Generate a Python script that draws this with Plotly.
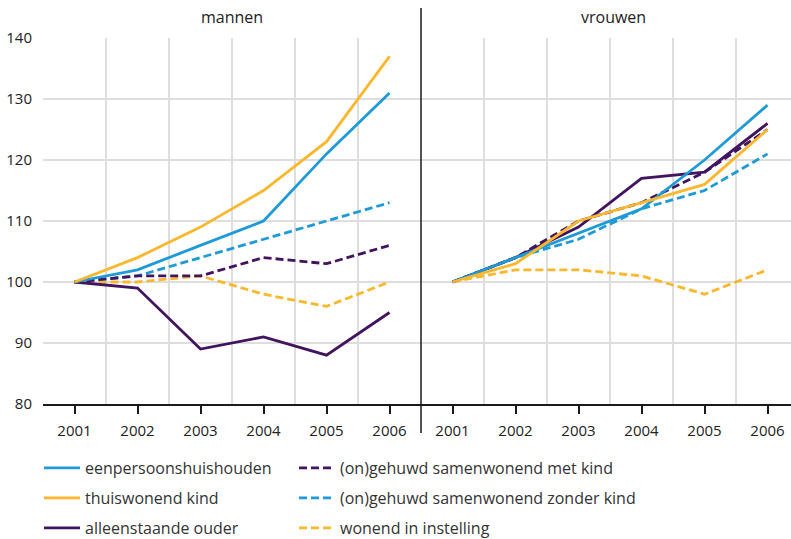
import plotly.graph_objects as go

years = [2001, 2002, 2003, 2004, 2005, 2006]
tick_years = ["2001", "2002", "2003", "2004", "2005", "2006"]
y_ticks = [80, 90, 100, 110, 120, 130, 140]
panel_titles = ["mannen", "vrouwen"]

names = [
    "eenpersoonshuishouden",
    "thuiswonend kind",
    "alleenstaande ouder",
    "(on)gehuwd samenwonend met kind",
    "(on)gehuwd samenwonend zonder kind",
    "wonend in instelling",
]

# mannen
m_eenpersoons = [100, 102, 106, 110, 121, 131]
m_thuiswonend = [100, 104, 109, 115, 123, 137]
m_alleenstaand = [100, 99, 89, 91, 88, 95]
m_met_kind = [100, 101, 101, 104, 103, 106]
m_zonder_kind = [100, 101, 104, 107, 110, 113]
m_instelling = [100, 100, 101, 98, 96, 100]

# vrouwen
v_eenpersoons = [100, 104, 108, 112, 120, 129]
v_thuiswonend = [100, 103, 110, 113, 116, 125]
v_alleenstaand = [100, 104, 109, 117, 118, 126]
v_met_kind = [100, 104, 110, 113, 118, 125]
v_zonder_kind = [100, 104, 107, 112, 115, 121]
v_instelling = [100, 102, 102, 101, 98, 102]

BLUE = "#1e9ad6"
YELLOW = "#fbb72e"
PURPLE = "#42145f"
DASH = "8px,4px"
LW = 2.8

W, H = 791, 539
FONT = "Open Sans"


def px(x):
    return x / W


def py(y):
    return (H - y) / H


fig = go.Figure()

# (color, dash, legend id, legend x (px), legend row y (px))
styles = [
    (BLUE, "solid", "legend", 39, 468),
    (YELLOW, "solid", "legend2", 39, 498),
    (PURPLE, "solid", "legend3", 39, 528),
    (PURPLE, DASH, "legend4", 294, 468),
    (BLUE, DASH, "legend5", 294, 498),
    (YELLOW, DASH, "legend6", 294, 528),
]
mdata = [m_eenpersoons, m_thuiswonend, m_alleenstaand, m_met_kind, m_zonder_kind, m_instelling]
vdata = [v_eenpersoons, v_thuiswonend, v_alleenstaand, v_met_kind, v_zonder_kind, v_instelling]

draw_order = [5, 4, 3, 2, 0, 1]
for panel, data, xa in [(0, mdata, "x"), (1, vdata, "x2")]:
    for i in draw_order:
        col, dash, leg, lx, ly = styles[i]
        fig.add_trace(go.Scatter(
            x=years, y=data[i], mode="lines", name=names[i],
            line=dict(color=col, width=LW, dash=dash),
            xaxis=xa, yaxis="y" if xa == "x" else "y2",
            showlegend=(panel == 0), legend=leg,
            hoverinfo="skip",
        ))

grid = "#dedede"
xcommon = dict(
    tickmode="array", tickvals=years, ticktext=tick_years,
    ticks="outside", ticklen=8, tickwidth=1.5, tickcolor="#1a1a1a",
    showgrid=False, zeroline=False,
    showline=True, linecolor="#1a1a1a", linewidth=1.5,
    tickfont=dict(family=FONT, size=15, color="#222"),
    ticklabelstandoff=4, automargin=False,
    minor=dict(tickmode="array", tickvals=[2000.5 + k for k in range(7)],
               showgrid=True, gridcolor=grid, gridwidth=1.5, ticks=""),
    fixedrange=True,
)
ydom = [py(404), py(38)]
ycommon = dict(
    range=[80, 140], tickvals=y_ticks, domain=ydom,
    showgrid=True, gridcolor=grid, gridwidth=1.5, zeroline=False,
    showline=False, ticks="", fixedrange=True, automargin=False,
)

legcommon = dict(
    orientation="v", xanchor="left", yanchor="middle",
    font=dict(family=FONT, size=16, color="#333"),
    bgcolor="rgba(0,0,0,0)", borderwidth=0, itemwidth=36,
    itemclick=False, itemdoubleclick=False,
)

layout_legends = {}
for col, dash, leg, lx, ly in styles:
    layout_legends[leg] = dict(x=px(lx), y=py(ly), **legcommon)

fig.update_layout(
    width=W, height=H,
    margin=dict(l=0, r=0, t=0, b=0, pad=0, autoexpand=False),
    paper_bgcolor="white", plot_bgcolor="white",
    font=dict(family=FONT, color="#222"),
    xaxis=dict(domain=[px(43), px(421)], range=[2000.5, 2006.5], **xcommon),
    xaxis2=dict(domain=[px(421), 1], range=[2000.5, 2000.5 + 370 / 63], **xcommon),
    yaxis=dict(anchor="x", ticklabelstandoff=10,
               tickfont=dict(family=FONT, size=15, color="#222"), **ycommon),
    yaxis2=dict(anchor="x2", showticklabels=False, **ycommon),
    showlegend=True,
    **layout_legends,
)

fig.add_shape(type="line", xref="paper", yref="paper",
              x0=px(421), x1=px(421), y0=py(433), y1=py(8),
              line=dict(color="#1a1a1a", width=1.5))

for title, xc in zip(panel_titles, [232, 613]):
    fig.add_annotation(text=title, xref="paper", yref="paper",
                       x=px(xc), y=py(17), showarrow=False,
                       xanchor="center", yanchor="middle",
                       font=dict(family=FONT, size=16, color="#222"))

fig.write_html(
    "out.html",
    config={"displayModeBar": False},
    post_script="document.body.style.margin='0';document.body.style.overflow='hidden';",
)
